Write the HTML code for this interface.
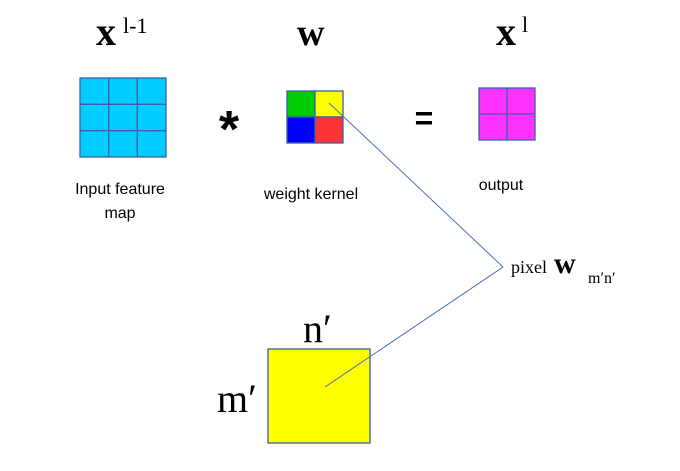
<!DOCTYPE html>
<html><head><style>
body{margin:0;width:680px;height:466px;background:#fff;overflow:hidden}
</style></head><body>
<svg width="680" height="466" xmlns="http://www.w3.org/2000/svg">
<g stroke="#3a5fa8" stroke-width="1.3">
<rect x="80" y="78" width="86" height="79" fill="#00ccff"/>
<line x1="108.7" y1="78" x2="108.7" y2="157"/><line x1="137.3" y1="78" x2="137.3" y2="157"/>
<line x1="80" y1="104.3" x2="166" y2="104.3"/><line x1="80" y1="130.7" x2="166" y2="130.7"/>
<rect x="287" y="91" width="28" height="26" fill="#00cc00"/>
<rect x="315" y="91" width="28" height="26" fill="#ffff00"/>
<rect x="287" y="117" width="28" height="26" fill="#0000ff"/>
<rect x="315" y="117" width="28" height="26" fill="#ff3333"/>
<rect x="479" y="88" width="56" height="52" fill="#ff33ff"/>
<line x1="507" y1="88" x2="507" y2="140"/><line x1="479" y1="114" x2="535" y2="114"/>
<rect x="268" y="349" width="102" height="94" fill="#ffff00"/>
</g>
<polyline points="329,103 503,267 325,387" fill="none" stroke="#4a72b8" stroke-width="1"/>
<g font-family="Liberation Serif,serif" fill="#000">
<text x="96" y="45" font-size="40" font-weight="bold">x</text>
<text x="123" y="33" font-size="22">l-1</text>
<text x="297" y="45" font-size="38" font-weight="bold">w</text>
<text x="496" y="45" font-size="40" font-weight="bold">x</text>
<text x="522" y="32" font-size="22">l</text>
<text x="303" y="342" font-size="40">n′</text>
<text x="217" y="412" font-size="40">m′</text>
<text x="511" y="273" font-size="18">pixel</text>
<text x="554" y="273" font-size="30" font-weight="bold">w</text>
<text x="588" y="283" font-size="16">m′n′</text>
</g>
<g font-family="Liberation Sans,sans-serif" fill="#000" font-size="16" text-anchor="middle">
<text x="120" y="194">Input feature</text>
<text x="120" y="218">map</text>
<text x="311" y="199">weight kernel</text>
<text x="501" y="190">output</text>
<text x="229" y="147" font-size="52" font-weight="bold">*</text>
<text x="424" y="129" font-size="32" font-weight="bold">=</text>
</g>
</svg>
</body></html>
